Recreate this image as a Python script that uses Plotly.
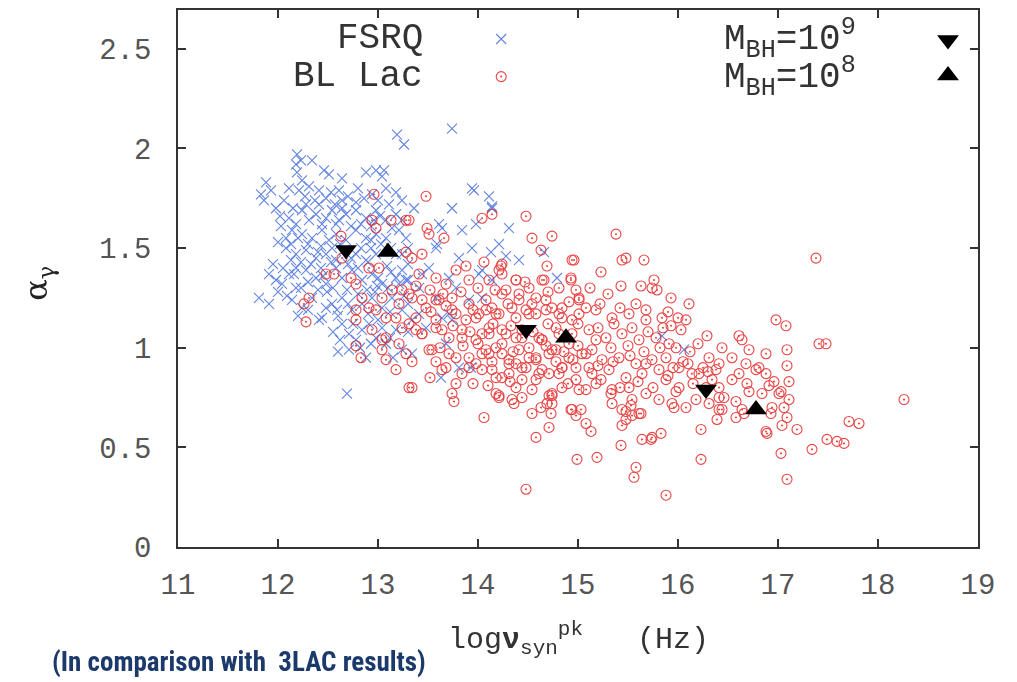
import plotly.graph_objects as go

# ---- data (log nu_syn^pk [Hz], alpha_gamma) ----
fsrq_points = [
    (13.19, 2.07), (13.26, 2.02), (13.74, 2.10),
    (12.19, 1.97), (12.18, 1.92), (12.23, 1.94), (12.34, 1.94), (12.19, 1.88),
    (12.46, 1.89), (12.51, 1.87), (12.64, 1.85), (12.88, 1.88), (12.98, 1.89), (13.06, 1.89), (13.04, 1.86),
    (11.88, 1.83), (11.93, 1.79), (11.86, 1.74), (11.98, 1.70), (11.83, 1.77),
    (12.11, 1.80), (12.21, 1.79), (12.31, 1.81), (12.41, 1.79), (12.48, 1.75), (12.61, 1.79), (12.64, 1.74),
    (12.78, 1.73), (12.86, 1.75), (12.94, 1.77), (13.08, 1.80), (13.18, 1.78), (13.24, 1.74), (13.11, 1.72),
    (12.11, 1.65), (12.18, 1.62), (12.24, 1.69), (12.31, 1.64), (12.38, 1.67), (12.48, 1.65), (12.54, 1.69),
    (12.61, 1.64), (12.68, 1.67), (12.78, 1.69), (12.88, 1.65), (12.98, 1.69), (13.08, 1.64), (13.18, 1.67),
    (12.08, 1.55), (12.14, 1.59), (12.24, 1.57), (12.34, 1.55), (12.44, 1.59), (12.51, 1.54), (12.58, 1.57),
    (12.68, 1.54), (12.78, 1.59), (12.88, 1.55), (12.98, 1.57), (13.08, 1.55), (13.21, 1.59),
    (12.08, 1.50), (12.18, 1.47), (12.28, 1.49), (12.38, 1.45), (12.48, 1.47), (12.58, 1.44), (12.78, 1.47),
    (12.88, 1.44), (12.98, 1.47), (13.24, 1.47),
    (11.91, 1.37), (11.98, 1.34), (12.11, 1.37), (12.18, 1.40), (12.28, 1.39), (12.38, 1.35), (12.48, 1.32),
    (12.64, 1.35), (12.74, 1.39), (12.84, 1.34), (12.94, 1.37), (13.04, 1.32), (13.18, 1.35), (13.24, 1.39),
    (11.81, 1.25), (11.91, 1.22), (12.14, 1.24), (12.24, 1.20), (12.34, 1.25), (12.44, 1.15), (12.54, 1.22),
    (12.64, 1.25), (12.74, 1.19), (12.84, 1.22), (12.94, 1.25), (13.04, 1.20), (13.14, 1.25), (13.24, 1.19),
    (12.41, 1.14), (12.64, 1.12), (12.71, 1.07), (12.78, 1.04), (12.84, 1.09), (12.91, 1.12), (12.98, 1.05),
    (13.04, 1.10), (13.18, 1.09), (12.71, 0.99), (12.88, 0.95), (13.08, 1.02), (13.24, 0.99), (12.69, 0.77),
    (12.13, 1.44), (12.23, 1.43), (12.43, 1.51), (12.66, 1.49), (12.73, 1.45), (12.93, 1.50), (13.13, 1.50),
    (12.03, 1.61), (12.41, 1.72), (12.73, 1.61), (12.93, 1.61), (12.49, 1.28), (12.59, 1.19), (12.23, 1.30),
    (12.04, 1.32), (12.09, 1.26), (12.43, 1.40), (12.53, 1.43), (12.89, 1.29), (12.99, 1.31), (13.09, 1.41),
    (13.21, 1.32), (13.26, 1.26), (13.28, 1.55), (12.53, 1.78), (12.24, 1.84), (12.06, 1.74),
    (12.27, 1.76), (12.37, 1.74), (12.57, 1.72), (12.70, 1.76), (12.80, 1.80), (13.00, 1.74),
    (12.15, 1.70), (12.28, 1.72), (12.44, 1.62), (12.58, 1.62), (12.64, 1.70), (12.83, 1.62), (12.96, 1.64),
    (13.02, 1.66), (13.14, 1.60), (13.24, 1.64), (12.02, 1.66),
    (12.00, 1.53), (12.13, 1.52), (12.20, 1.55), (12.30, 1.52), (12.40, 1.48), (12.54, 1.50), (12.62, 1.52),
    (12.83, 1.50), (12.93, 1.54), (13.03, 1.52), (13.18, 1.47), (13.30, 1.50),
    (11.95, 1.42), (12.05, 1.40), (12.16, 1.37), (12.33, 1.42), (12.45, 1.36), (12.58, 1.40), (12.70, 1.42),
    (12.80, 1.40), (12.90, 1.43), (13.00, 1.35), (13.13, 1.38), (13.30, 1.42),
    (12.00, 1.28), (12.18, 1.30), (12.30, 1.33), (12.40, 1.29), (12.55, 1.30), (12.69, 1.29), (12.80, 1.27),
    (12.97, 1.28), (13.10, 1.30), (13.30, 1.34),
    (12.20, 1.16), (12.30, 1.19), (12.48, 1.20), (12.60, 1.16), (12.70, 1.22), (12.90, 1.17), (13.00, 1.14),
    (13.12, 1.18), (13.30, 1.22),
    (12.55, 1.08), (12.62, 1.04), (12.75, 1.12), (12.93, 1.02), (13.12, 1.05), (13.30, 1.08), (12.60, 0.98),
    (12.82, 1.00), (13.15, 0.95),
    (13.94, 1.80), (13.96, 1.79), (14.11, 1.76), (13.74, 1.70), (13.36, 1.70), (14.31, 1.60), (14.14, 1.70),
    (13.84, 1.59), (13.58, 1.50), (13.64, 1.60), (13.94, 1.50), (13.81, 1.45), (14.21, 1.52), (14.41, 1.44),
    (14.66, 1.48), (14.79, 1.35), (14.01, 1.37), (13.78, 1.30), (13.44, 1.37), (13.58, 1.25), (13.41, 1.17),
    (13.64, 1.15), (13.91, 1.24), (13.34, 0.97), (13.63, 0.85), (13.74, 1.14),
    (13.61, 1.62), (13.98, 1.62), (13.59, 1.52), (14.13, 1.48), (14.28, 1.46), (14.04, 1.39), (13.71, 1.35),
    (13.51, 1.40), (13.28, 1.34), (13.41, 1.30), (13.71, 1.17), (13.34, 1.14), (13.48, 1.10), (13.68, 1.02),
    (13.81, 0.90), (13.93, 0.90), (14.14, 1.71), (14.14, 1.34), (14.04, 1.25),
    (15.84, 1.06), (16.06, 0.99),
]

bllac_points = [
    (12.96, 1.77), (13.13, 1.64), (13.28, 1.64), (12.94, 1.64), (12.63, 1.56), (12.98, 1.60), (12.48, 1.37),
    (12.56, 1.37), (12.31, 1.25), (12.26, 1.22), (12.28, 1.13),
    (12.78, 1.32), (12.84, 1.25), (12.78, 1.19), (12.91, 1.20), (12.98, 1.19), (13.04, 1.25), (13.14, 1.29),
    (13.21, 1.22), (13.08, 1.15), (13.18, 1.15), (13.24, 1.10), (12.78, 1.14), (12.94, 1.09), (13.08, 1.05),
    (13.21, 1.02), (13.04, 0.99), (12.78, 1.01), (12.83, 0.95), (13.08, 0.94), (13.18, 0.89), (13.04, 1.04),
    (13.31, 0.80), (12.91, 1.40), (13.01, 1.40), (12.73, 1.35), (12.64, 1.45),
    (13.48, 1.76), (13.31, 1.64), (13.49, 1.60), (13.51, 1.57), (13.66, 1.55), (14.04, 1.65), (14.14, 1.67),
    (14.48, 1.66), (14.54, 1.55), (14.74, 1.56), (14.63, 1.49), (14.06, 1.43), (14.24, 1.42), (14.69, 1.41),
    (13.88, 1.41), (13.78, 1.39), (13.34, 1.45), (13.44, 1.47), (13.41, 1.37), (13.58, 1.35), (13.68, 1.32),
    (13.91, 1.34), (14.11, 1.34), (14.24, 1.37), (14.38, 1.34), (14.51, 1.30), (14.64, 1.34), (14.81, 1.30),
    (13.31, 1.27), (13.44, 1.24), (13.58, 1.24), (13.74, 1.25), (13.91, 1.22), (14.08, 1.24), (14.24, 1.27),
    (14.41, 1.24), (14.58, 1.25), (14.74, 1.20), (13.38, 1.15), (13.58, 1.14), (13.78, 1.17), (13.98, 1.15),
    (14.18, 1.17), (14.38, 1.15), (14.58, 1.17), (14.84, 1.15), (13.44, 1.07), (13.64, 1.09), (13.84, 1.05),
    (14.04, 1.07), (14.24, 1.09), (14.44, 1.05), (14.64, 1.04), (14.81, 1.07), (13.51, 0.99), (13.71, 0.97),
    (13.91, 0.95), (14.11, 0.97), (14.31, 0.94), (14.51, 0.95), (14.71, 0.97), (13.68, 0.90), (13.84, 0.87),
    (14.04, 0.89), (14.24, 0.85), (14.44, 0.90), (14.61, 0.87), (14.84, 0.90), (13.78, 0.82), (14.21, 0.76),
    (14.44, 0.75), (14.74, 0.77),
    (14.94, 1.44), (13.28, 1.48), (14.21, 1.39), (14.93, 1.35), (15.01, 1.25),
    (13.24, 1.29), (13.34, 1.25), (13.48, 1.20), (13.61, 1.24), (13.74, 1.19), (13.88, 1.14), (14.01, 1.17),
    (14.14, 1.20), (14.28, 1.29), (14.41, 1.27), (14.54, 1.22), (14.68, 1.24), (14.81, 1.17), (14.94, 1.14),
    (15.08, 1.20), (13.31, 1.12), (13.44, 1.07), (13.58, 1.10), (13.71, 1.05), (13.84, 1.09), (13.98, 1.04),
    (14.11, 1.07), (14.24, 1.02), (14.38, 1.05), (14.51, 1.00), (14.64, 1.04), (14.78, 0.99), (14.91, 1.02),
    (15.04, 0.97), (15.18, 1.04), (13.28, 0.97), (13.54, 0.99), (13.78, 0.95), (14.04, 0.97), (14.31, 0.92),
    (14.58, 0.94), (14.84, 0.90), (15.11, 0.90), (13.34, 0.93), (13.64, 0.89), (13.91, 0.90), (14.18, 0.85),
    (14.44, 0.84), (14.71, 0.87), (14.98, 0.84), (13.34, 0.80), (13.74, 0.77), (14.18, 0.77), (14.71, 0.76),
    (15.08, 0.79),
    (15.38, 1.57), (15.44, 1.44), (15.48, 1.45), (15.66, 1.44), (14.96, 1.44), (15.23, 1.38), (14.23, 1.41),
    (14.38, 1.34), (14.66, 1.34), (14.93, 1.34), (14.98, 1.29), (15.01, 1.24), (15.43, 1.31), (15.63, 1.31),
    (15.74, 1.30), (15.76, 1.34), (15.93, 1.25), (16.11, 1.22), (15.68, 1.19), (16.08, 1.14), (15.93, 1.11),
    (16.03, 1.09), (16.29, 1.06), (16.61, 1.06), (16.64, 1.04), (16.98, 1.14), (17.08, 1.11), (17.38, 1.45),
    (17.41, 1.02), (17.48, 1.02), (17.09, 0.99), (16.88, 0.97), (17.09, 0.91), (17.11, 0.83), (17.11, 0.74),
    (16.96, 0.83), (17.01, 0.77), (17.06, 0.70), (17.19, 0.59), (16.89, 0.57), (17.34, 0.49), (17.03, 0.47),
    (17.09, 0.34), (17.49, 0.54), (17.59, 0.53), (17.66, 0.52), (17.71, 0.63), (17.81, 0.62), (18.26, 0.74),
    (16.64, 0.69), (16.58, 0.65), (16.41, 0.69), (16.39, 0.64), (16.23, 0.59), (16.23, 0.44), (16.41, 0.80),
    (16.46, 0.75), (16.54, 0.84), (16.69, 0.82), (16.84, 0.77), (16.94, 0.70), (16.81, 0.90), (16.68, 0.92),
    (16.54, 0.95), (16.41, 0.92), (16.31, 0.95), (16.44, 1.00), (16.61, 0.87), (16.88, 0.87), (16.14, 0.87),
    (16.01, 0.80), (15.88, 0.84), (15.81, 0.74), (15.94, 0.72), (16.08, 0.70), (15.68, 0.77), (15.54, 0.74),
    (15.44, 0.69), (15.61, 0.67), (15.48, 0.64), (15.83, 0.57), (15.73, 0.54), (15.64, 0.54), (15.58, 0.40),
    (15.56, 0.35), (15.88, 0.26), (15.43, 0.51), (15.19, 0.45), (14.99, 0.44), (15.13, 0.58), (15.08, 0.62),
    (15.03, 0.69), (14.71, 0.60), (14.58, 0.55), (14.48, 0.29), (14.73, 0.67), (14.74, 0.72), (14.63, 0.70),
    (14.54, 0.67), (14.34, 0.74), (14.21, 0.75), (14.06, 0.65), (14.93, 0.69),
    (14.08, 1.19), (14.21, 1.17), (14.34, 1.20), (14.51, 1.17), (14.68, 1.19), (14.84, 1.20), (15.01, 1.17),
    (15.18, 1.19), (15.34, 1.15), (15.51, 1.17), (15.68, 1.14), (15.84, 1.15),
    (14.11, 1.10), (14.28, 1.07), (14.44, 1.09), (14.61, 1.05), (14.78, 1.10), (14.94, 1.07), (15.11, 1.09),
    (15.28, 1.05), (15.44, 1.07), (15.61, 1.04), (15.78, 1.05), (15.91, 1.02),
    (14.08, 0.99), (14.24, 0.97), (14.41, 0.99), (14.58, 0.95), (14.74, 0.99), (14.91, 0.95), (15.08, 0.97),
    (15.24, 0.94), (15.41, 0.95), (15.58, 0.92), (15.74, 0.94), (15.88, 0.95),
    (14.14, 0.89), (14.31, 0.87), (14.48, 0.90), (14.64, 0.89), (14.81, 0.87), (14.98, 0.90), (15.14, 0.87),
    (15.31, 0.89), (15.48, 0.85), (15.64, 0.87), (15.81, 0.89), (16.01, 0.90), (16.21, 0.87), (16.34, 0.84),
    (14.38, 0.80), (14.54, 0.79), (14.84, 0.80), (15.01, 0.79), (15.18, 0.82), (15.34, 0.79), (15.51, 0.80),
    (16.18, 0.74), (16.31, 0.72), (16.41, 0.75),
    (13.76, 0.73), (14.36, 0.72), (14.69, 0.72), (14.74, 0.76), (14.94, 0.69), (14.98, 0.66),
    (15.33, 0.77), (15.34, 0.72), (15.48, 0.68), (15.54, 0.66), (15.63, 0.67), (15.53, 0.71), (15.44, 0.61),
    (15.74, 0.55), (16.44, 0.69), (16.66, 0.67), (16.88, 0.58), (16.93, 0.67), (17.04, 0.61), (17.09, 0.65),
    (15.96, 0.70), (16.58, 0.73), (16.71, 0.78), (16.91, 0.81), (17.03, 0.78),
    (15.79, 1.29), (16.71, 0.99), (16.78, 0.89), (16.38, 0.89),
    (15.98, 1.00), (16.12, 0.98), (16.20, 1.02), (16.05, 0.93), (16.25, 0.90), (15.95, 0.90),
    (13.38, 1.31), (13.52, 1.29), (13.65, 1.27), (13.83, 1.28), (14.00, 1.30), (14.17, 1.29), (14.47, 1.33),
    (14.70, 1.28), (15.12, 1.30), (15.30, 1.27),
    (13.53, 1.18), (13.68, 1.21), (13.95, 1.19), (14.30, 1.22), (14.48, 1.19), (14.91, 1.23), (15.22, 1.22),
    (15.42, 1.20), (15.58, 1.22), (15.90, 1.18), (16.00, 1.15),
    (13.38, 1.09), (13.75, 1.11), (13.92, 1.08), (14.15, 1.12), (14.33, 1.11), (14.55, 1.08), (14.70, 1.12),
    (15.00, 1.12), (15.20, 1.10), (15.36, 1.12), (15.54, 1.10), (15.70, 1.08), (15.85, 1.10),
    (13.62, 1.00), (13.85, 1.01), (14.00, 1.02), (14.18, 1.00), (14.35, 0.98), (14.68, 1.01), (14.86, 0.98),
    (15.00, 1.01), (15.14, 0.99), (15.33, 1.00), (15.50, 1.01), (15.66, 0.98), (15.82, 1.00),
    (13.58, 0.93), (13.98, 0.92), (14.14, 0.93), (14.38, 0.92), (14.78, 0.93), (14.95, 0.94), (15.20, 0.91),
    (15.35, 0.93), (15.52, 0.96), (15.68, 0.92), (15.90, 0.86), (16.10, 0.92), (16.30, 0.88),
    (13.52, 0.85), (13.95, 0.82), (14.10, 0.81), (14.32, 0.83), (14.58, 0.84), (14.90, 0.82), (15.23, 0.84),
    (15.42, 0.80), (15.60, 0.83), (15.75, 0.80), (15.98, 0.78), (16.15, 0.82), (16.28, 0.80),
]

mbh9_logx = [12.68, 14.48, 16.28]
mbh9_alpha = [1.49, 1.09, 0.79]
mbh8_logx = [13.10, 14.88, 16.78]
mbh8_alpha = [1.48, 1.05, 0.69]

x_ticks = [11, 12, 13, 14, 15, 16, 17, 18, 19]
y_ticks = [0, 0.5, 1, 1.5, 2, 2.5]
y_ticklabels = ["0", "0.5", "1", "1.5", "2", "2.5"]

# ---- style ----
BLUE = "rgb(72,112,218)"
RED = "rgb(228,35,35)"
MONO = "Liberation Mono, Courier New, monospace"

fig = go.Figure()

fig.add_trace(go.Scatter(
    x=[p[0] for p in fsrq_points], y=[p[1] for p in fsrq_points],
    mode="markers", name="FSRQ",
    marker=dict(symbol="x-thin-open", size=10, color=BLUE, line=dict(width=1.1, color=BLUE)),
    opacity=0.85,
))
fig.add_trace(go.Scatter(
    x=[p[0] for p in bllac_points], y=[p[1] for p in bllac_points],
    mode="markers", name="BL Lac",
    marker=dict(symbol="circle-open-dot", size=10, color=RED, line=dict(width=1.1, color=RED)),
    opacity=0.85,
))
fig.add_trace(go.Scatter(
    x=mbh9_logx, y=mbh9_alpha, mode="markers", name="M_BH=10^9",
    marker=dict(symbol="triangle-down", size=19, color="black"),
))
fig.add_trace(go.Scatter(
    x=mbh8_logx, y=mbh8_alpha, mode="markers", name="M_BH=10^8",
    marker=dict(symbol="triangle-up", size=19, color="black"),
))

# legend key samples on an overlay axis spanning the plot box [0,1]
key_style = [
    (0.404, 0.946, dict(symbol="x-thin-open", size=10, color=BLUE, line=dict(width=1.1, color=BLUE)), 0.85),
    (0.404, 0.876, dict(symbol="circle-open-dot", size=10, color=RED, line=dict(width=1.1, color=RED)), 0.85),
    (0.9625, 0.944, dict(symbol="triangle-down", size=19, color="black"), 1),
    (0.9625, 0.878, dict(symbol="triangle-up", size=19, color="black"), 1),
]
for kx, ky, km, op in key_style:
    fig.add_trace(go.Scatter(x=[kx], y=[ky], xaxis="x2", yaxis="y2", mode="markers",
                             hoverinfo="skip", marker=km, opacity=op))

axis_common = dict(
    showgrid=False, zeroline=False, showline=True, linecolor="#333", linewidth=1.5,
    mirror="ticks", ticks="inside", ticklen=8, tickwidth=1.5, tickcolor="#333",
    tickfont=dict(family=MONO, size=29, color="#555"),
)

# page body has an 8px margin: figure is drawn at (8, 8)
fig.update_layout(
    width=1009, height=674,
    margin=dict(l=170, r=39, t=0, b=135),
    paper_bgcolor="white", plot_bgcolor="white",
    showlegend=False,
    xaxis=dict(range=[11, 19], tickvals=x_ticks, ticktext=[str(t) for t in x_ticks],
               ticklabelstandoff=10, **axis_common),
    yaxis=dict(range=[0, 2.695], tickvals=y_ticks, ticktext=y_ticklabels,
               ticklabelstandoff=19, **axis_common),
    xaxis2=dict(overlaying="x", range=[0, 1], visible=False),
    yaxis2=dict(overlaying="y", range=[0, 1], visible=False),
)

LEG = dict(family=MONO, size=36, color="#333")
annots = [
    dict(text="FSRQ", x=0.309, y=0.946, xanchor="right", yanchor="middle", font=LEG),
    dict(text="BL Lac", x=0.309, y=0.876, xanchor="right", yanchor="middle", font=LEG),
    dict(text="M<sub>BH</sub>=10<sup>9</sup>", x=0.68, y=0.946, xanchor="left", yanchor="middle", font=LEG),
    dict(text="M<sub>BH</sub>=10<sup>8</sup>", x=0.68, y=0.876, xanchor="left", yanchor="middle", font=LEG),
    dict(text="log<b>ν</b><sub>syn</sub><sup>pk</sup>   (Hz)", x=0.5, y=-0.172, xanchor="center",
         yanchor="middle", font=dict(family=MONO, size=30, color="#333")),
    dict(text="α<sub>γ</sub>", x=-0.175, y=0.49, xanchor="center", yanchor="middle", textangle=-90,
         font=dict(family="DejaVu Serif, serif", size=32, color="#222")),
    dict(text="<b>(In comparison with  3LAC results)</b>", x=-0.16, y=-0.214, xanchor="left",
         yanchor="middle", font=dict(family="Liberation Sans Narrow, Roboto Condensed, Roboto, sans-serif",
                                     size=27, color="#1b3a6b")),
]
for a in annots:
    fig.add_annotation(xref="paper", yref="paper", showarrow=False, **a)

fig.write_html("out.html")
